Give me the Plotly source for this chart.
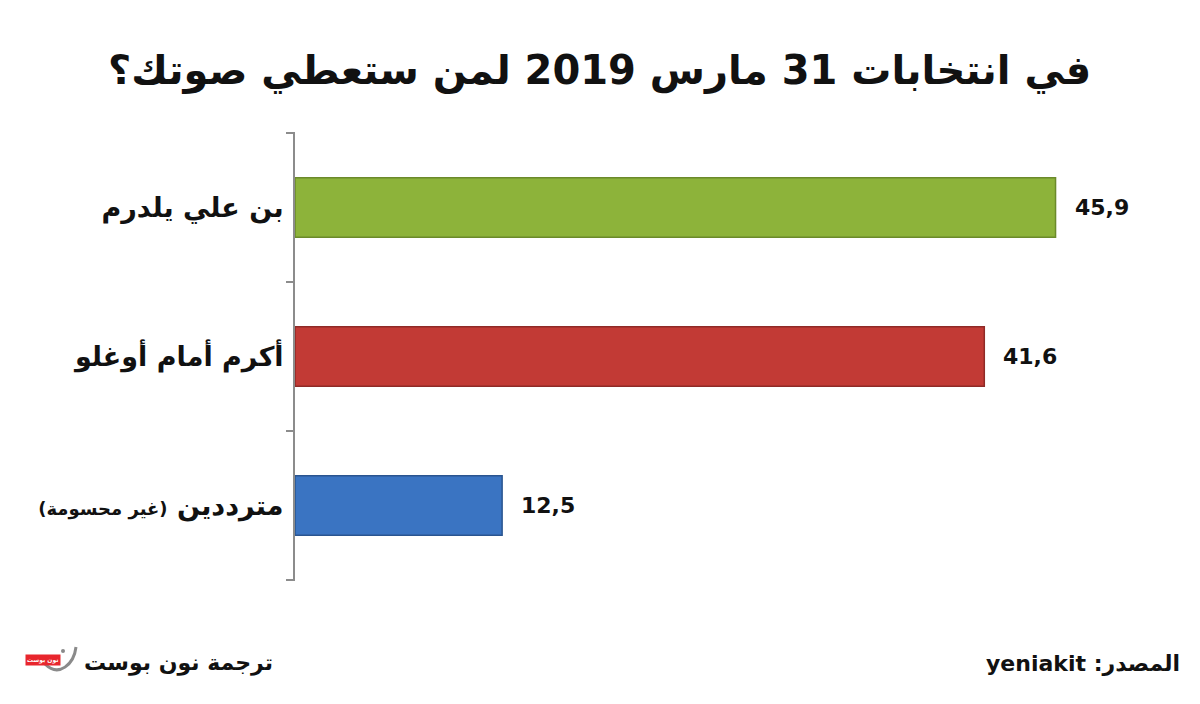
import plotly.graph_objects as go

categories = ["بن علي يلدرم", "أكرم أمام أوغلو", "مترددين <span style='font-size:18px'>(غير محسومة)</span>"]
values = [45.9, 41.6, 12.5]
value_labels = ["45,9", "41,6", "12,5"]
colors = ["#8db33a", "#c23a35", "#3a74c2"]
line_colors = ["#6b8a2a", "#8f2a27", "#2a5590"]

title = "في انتخابات 31 مارس 2019 لمن ستعطي صوتك؟"
credit = "ترجمة نون بوست"
source = "yeniakit :المصدر"
logo_text = "نون بوست"

FONT = "DejaVu Sans"

fig = go.Figure()
fig.add_trace(go.Bar(
    y=categories, x=values, orientation="h",
    marker=dict(color=colors, line=dict(color=line_colors, width=1.5)),
    hoverinfo="skip",
))

for c, v, t in zip(categories, values, value_labels):
    fig.add_annotation(x=v, y=c, text="<b>%s</b>" % t, showarrow=False,
                       xanchor="left", xshift=17,
                       font=dict(family=FONT, size=22, color="#111"))

# category boundary ticks
for k in range(len(categories) + 1):
    fig.add_shape(type="line", xref="paper", yref="paper",
                  xsizemode="pixel", xanchor=0, x0=-9, x1=0,
                  y0=k / len(categories), y1=k / len(categories),
                  line=dict(color="#8c8c8c", width=2))

# logo curve (decoration)
fig.add_shape(type="path", xref="paper", yref="paper",
              xsizemode="pixel", ysizemode="pixel", xanchor=0, yanchor=0,
              path="M -219,-67 C -221,-84 -236,-98 -250,-84",
              line=dict(color="#8a8a8a", width=3))
fig.add_shape(type="circle", xref="paper", yref="paper",
              xsizemode="pixel", ysizemode="pixel", xanchor=0, yanchor=0,
              x0=-234, x1=-230, y0=-69, y1=-73,
              fillcolor="#8a8a8a", line=dict(width=0))

fig.add_annotation(xref="paper", yref="paper", x=-0.023, y=0, yshift=-83,
                   xanchor="right", yanchor="middle",
                   text="<b>%s</b>" % credit, showarrow=False,
                   font=dict(family=FONT, size=22, color="#111"))
fig.add_annotation(xref="paper", yref="paper", x=-0.2947, y=0, yshift=-80,
                   xanchor="center", yanchor="middle",
                   text="<b>%s</b>" % logo_text, showarrow=False,
                   bgcolor="#e8262d", borderpad=1,
                   font=dict(family=FONT, size=6, color="white"))
fig.add_annotation(xref="paper", yref="paper", x=1.037, y=0, yshift=-83,
                   xanchor="right", yanchor="middle",
                   text="<b>%s</b>" % source, showarrow=False,
                   font=dict(family=FONT, size=22, color="#111"))

fig.update_layout(
    width=1200, height=704,
    margin=dict(l=287, r=58, t=125, b=132, autoexpand=False),
    paper_bgcolor="white", plot_bgcolor="white",
    bargap=0.6, showlegend=False,
    title=dict(text="<b>%s</b>" % title, x=0.493, xref="container",
               xanchor="center", y=1 - 62 / 704, yref="container",
               yanchor="middle",
               font=dict(family=FONT, size=40, color="#111")),
    xaxis=dict(range=[0, 51.6], visible=False),
    yaxis=dict(autorange="reversed", type="category", automargin=False,
               showline=True, linecolor="#8c8c8c", linewidth=2,
               ticks="", showgrid=False, ticklabelstandoff=4,
               tickfont=dict(family=FONT, size=27, color="#111")),
)
fig.update_yaxes(tickprefix="<b>", ticksuffix="</b>")

fig.write_html("out.html")
